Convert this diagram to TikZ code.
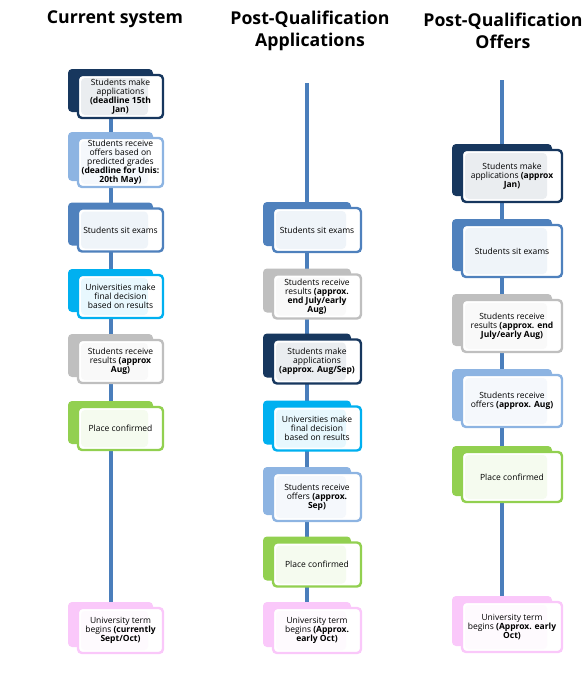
\documentclass[tikz,border=0pt]{standalone}
\usepackage{fontspec}
\setmainfont{Open Sans}
\usetikzlibrary{backgrounds}
\definecolor{navy}{HTML}{17375E}
\definecolor{paleblue}{HTML}{8DB4E2}
\definecolor{steel}{HTML}{4F81BD}
\definecolor{skyblue}{HTML}{00B0F0}
\definecolor{silver}{HTML}{BFBFBF}
\definecolor{leaf}{HTML}{92D050}
\definecolor{pink}{HTML}{FAC8FA}
\definecolor{linkblue}{HTML}{4A7EBB}
\begin{document}
\begin{tikzpicture}[
x=1pt, y=-1pt,
title/.style={font=\fontsize{17.7}{22}\selectfont\bfseries, align=center},
stage/.style={draw=#1, fill=white, line width=2.4pt, rounded corners=4pt,
  inner xsep=2pt, inner ysep=1pt, align=center, font=\fontsize{8.5}{9}\selectfont,
  preaction={fill=#1, transform canvas={xshift=-10pt, yshift=6pt}},
  path picture={\fill[#1!9] ([xshift=3pt,yshift=-3pt]path picture bounding box.north west)
    rectangle ([xshift=-15pt,yshift=3pt]path picture bounding box.south east);}},
col1/.style={minimum width=85pt, minimum height=43pt},
col2/.style={minimum width=88pt, minimum height=44pt},
col3/.style={minimum width=100pt, minimum height=52pt},
flow/.style={draw=linkblue, line width=4pt}
]
\useasboundingbox (0,0) rectangle (585,697);

% titles
\node[title] (tcur) at (115,19) {Current system};
\node[title] (tpqa) at (310,31) {Post-Qualification\\Applications};
\node[title] (tpqo) at (503,31) {Post-Qualification\\Offers};

% current system
\node[stage=navy, col1] (cur1) at (120.5,96.5) {Students make\\applications\\\textbf{(deadline 15th}\\\textbf{Jan)}};
\node[stage=paleblue, col1, minimum height=49pt] (cur2) at (120.5,162.5) {Students receive\\offers based on\\predicted grades\\\textbf{(deadline for Unis:}\\\textbf{20th May)}};
\node[stage=steel, col1] (cur3) at (120.5,230) {Students sit exams};
\node[stage=skyblue, col1] (cur4) at (120.5,296.5) {Universities make\\final decision\\based on results};
\node[stage=silver, col1] (cur5) at (120.5,361.5) {Students receive\\results \textbf{(approx}\\\textbf{Aug)}};
\node[stage=leaf, col1] (cur6) at (120.5,428.5) {Place confirmed};
\node[stage=pink, col1, minimum height=45pt] (cur7) at (120.5,630.5) {University term\\begins \textbf{(currently}\\\textbf{Sept/Oct)}};

% post-qualification applications
\coordinate (pqatop) at (307,83);
\node[stage=steel, col2] (pqa1) at (317,230) {Students sit exams};
\node[stage=silver, col2] (pqa2) at (317,296.5) {Students receive\\results \textbf{(approx.}\\\textbf{end July/early}\\\textbf{Aug)}};
\node[stage=navy, col2] (pqa3) at (317,361.5) {Students make\\applications\\\textbf{(approx. Aug/Sep)}};
\node[stage=skyblue, col2] (pqa4) at (317,428.5) {Universities make\\final decision\\based on results};
\node[stage=paleblue, col2, minimum height=48pt] (pqa5) at (317,497) {Students receive\\offers \textbf{(approx.}\\\textbf{Sep)}};
\node[stage=leaf, col2] (pqa6) at (317,564.5) {Place confirmed};
\node[stage=pink, col2, minimum height=45pt] (pqa7) at (317,630.5) {University term\\begins \textbf{(Approx.}\\\textbf{early Oct)}};

% post-qualification offers
\coordinate (pqotop) at (502,80);
\node[stage=navy, col3] (pqo1) at (512,176) {Students make\\applications \textbf{(approx}\\\textbf{Jan)}};
\node[stage=steel, col3] (pqo2) at (512,251) {Students sit exams};
\node[stage=silver, col3] (pqo3) at (512,326) {Students receive\\results \textbf{(approx. end}\\\textbf{July/early Aug)}};
\node[stage=paleblue, col3] (pqo4) at (512,401) {Students receive\\offers \textbf{(approx. Aug)}};
\node[stage=leaf, col3, minimum height=50pt] (pqo5) at (512,477) {Place confirmed};
\node[stage=pink, col3, minimum height=50pt] (pqo6) at (512,627) {University term\\begins \textbf{(Approx. early}\\\textbf{Oct)}};

% timelines behind the boxes
\begin{scope}[on background layer]
\foreach \a/\b in {cur1/cur2, cur2/cur3, cur3/cur4, cur4/cur5, cur5/cur6, cur6/cur7,
  pqa1/pqa2, pqa2/pqa3, pqa3/pqa4, pqa4/pqa5, pqa5/pqa6, pqa6/pqa7,
  pqo1/pqo2, pqo2/pqo3, pqo3/pqo4, pqo4/pqo5, pqo5/pqo6}
  \draw[flow] ([xshift=-10pt]\a.center) -- ([xshift=-10pt]\b.center);
\draw[flow] (pqatop) -- ([xshift=-10pt]pqa1.center);
\draw[flow] (pqotop) -- ([xshift=-10pt]pqo1.center);
\end{scope}
\end{tikzpicture}
\end{document}
